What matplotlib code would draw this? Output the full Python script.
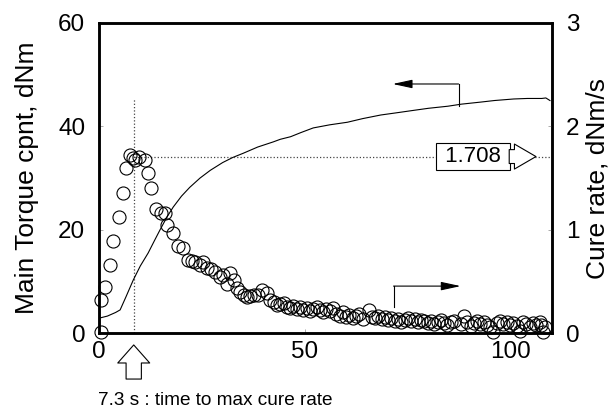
import numpy as np
import matplotlib
matplotlib.use('Agg')
import matplotlib.pyplot as plt

plt.rcParams['font.family'] = ['Liberation Sans', 'DejaVu Sans']

# ============================================
# DATOS
# ============================================
# Torque principal (eje izquierdo), dNm
t_torque = [0, 2, 4, 5.1, 6.5, 8.3, 10, 11.9, 13.5, 14.8, 16.5, 18, 20, 22,
            24.5, 27, 30, 32.5, 35, 38.5, 42.3, 44, 46.5, 49, 52, 56, 60.3,
            64, 68.4, 72, 76.4, 80, 84.7, 88, 92.7, 96, 100.7, 104, 107.5,
            108.5, 109.5]
torque = [2.9, 3.3, 4.0, 4.5, 7.0, 10.3, 13.0, 15.5, 18.0, 20.0, 22.5, 24.4,
          26.5, 28.2, 30.0, 31.5, 33.0, 34.0, 34.8, 36.0, 37.0, 37.5, 38.0,
          38.8, 39.7, 40.3, 40.8, 41.5, 42.2, 42.6, 43.1, 43.5, 43.9, 44.3,
          44.7, 45.0, 45.3, 45.4, 45.4, 45.5, 45.0]

# Velocidad de curado (eje derecho), dNm/s
t_rate = [0.4, 0.5, 1.5, 2.7, 3.4, 4.9, 5.9, 6.6, 7.5, 8.3, 8.8, 9.8, 11.2,
          11.9, 12.7, 13.9, 15.1, 16.0, 16.6, 18.0, 19.2, 20.4, 21.6, 22.5,
          23.4, 24.4, 25.3, 26.2, 27.2, 28.2, 29.4, 30.2, 31.0, 31.9, 32.7,
          33.5, 34.3, 35.1, 35.9, 36.7, 37.5, 38.5, 39.6, 40.8, 41.6, 42.4,
          43.2, 44.0, 44.8, 45.6,
          46.4, 47.2, 48.0, 48.8, 49.6, 50.4, 51.2, 52.0, 52.8, 53.6, 54.4,
          55.2, 56.0, 56.8,
          57.6, 58.4, 59.2, 60.0, 60.8, 61.6, 62.4, 63.2, 64.0, 65.5, 66.2,
          67.0, 67.8, 68.6, 69.4,
          70.2, 71.0, 71.8, 72.6, 73.4, 74.2, 75.0, 75.8, 76.6, 77.4, 78.2,
          79.0,
          79.8, 80.6, 81.4, 82.2, 83.0, 83.8, 84.6, 85.4, 86.2, 88.6, 87.8,
          89.4, 90.2, 91.0, 91.8, 92.6, 93.4, 94.2, 95.0, 95.6, 96.6, 97.4,
          98.2, 99.0, 99.8, 100.6, 101.4, 102.2, 103.0, 103.8, 104.6, 105.4,
          106.2, 107.0, 107.4, 107.8, 108.4]
rate = [0.01, 0.32, 0.45, 0.66, 0.89, 1.12, 1.36, 1.60, 1.72, 1.69, 1.67,
        1.70, 1.67, 1.55, 1.40, 1.20, 1.16, 1.16, 1.05, 0.97, 0.84, 0.82,
        0.71, 0.70, 0.69, 0.66, 0.69, 0.63, 0.62, 0.59, 0.54, 0.56, 0.48,
        0.58, 0.51, 0.44, 0.40, 0.37, 0.35, 0.36, 0.37, 0.37, 0.42, 0.39,
        0.32, 0.30, 0.27, 0.28, 0.29, 0.25,
        0.24, 0.26, 0.23, 0.25, 0.22, 0.24, 0.21, 0.23, 0.25, 0.22, 0.20,
        0.23, 0.21, 0.24,
        0.19, 0.17, 0.20, 0.16, 0.18, 0.15, 0.17, 0.19, 0.14, 0.22, 0.16,
        0.15, 0.17, 0.14, 0.16,
        0.13, 0.15, 0.12, 0.14, 0.11, 0.13, 0.15, 0.12, 0.14, 0.11, 0.13,
        0.12,
        0.10, 0.12, 0.09, 0.11, 0.13, 0.10, 0.08, 0.11, 0.12, 0.17, 0.09,
        0.11, 0.07, 0.10, 0.12, 0.09, 0.11, 0.08, 0.06, 0.01, 0.10, 0.12,
        0.09, 0.11, 0.08, 0.10, 0.07, 0.02, 0.11, 0.09, 0.06, 0.10,
        0.08, 0.11, 0.08, 0.01, 0.06]

t_max = 8.4          # posición de la línea vertical (tiempo a máx. velocidad)
rate_max = 1.708     # velocidad máxima, dNm/s
torque_line_top = 45.5

# ============================================
# FIGURA
# ============================================
fig = plt.figure(figsize=(6.12, 4.18), dpi=100)
ax = fig.add_axes([0.162, 0.203, 0.740, 0.742])
ax2 = ax.twinx()

ax.set_xlim(0, 110)
ax.set_ylim(0, 60)
ax2.set_ylim(0, 3)
ax.set_xticks([0, 50, 100])
ax.set_yticks([0, 20, 40, 60])
ax2.set_yticks([0, 1, 2, 3])

# Curva de torque
ax.plot(t_torque, torque, color='black', linewidth=0.8, zorder=3)

# Líneas punteadas de referencia
ax.plot([t_max, t_max], [0, torque_line_top], color='#444444',
        linestyle=':', linewidth=0.9)
ax2.plot([t_max, 110], [rate_max, rate_max], color='#444444',
         linestyle=':', linewidth=0.9, zorder=1)

# Velocidad de curado (círculos)
ax2.plot(t_rate, rate, linestyle='none', marker='o', markersize=9.4,
         markerfacecolor='none', markeredgecolor='black',
         markeredgewidth=0.8, clip_on=False, zorder=2)

# Flechas indicadoras de eje
ax.plot([87.3, 87.3], [43.9, 48.2], color='black', linewidth=0.8)
ax.annotate('', xy=(71.3, 48.2), xytext=(87.3, 48.2),
            arrowprops=dict(arrowstyle='-|>,head_length=12,head_width=2.6',
                            mutation_scale=1, color='black', lw=0.8,
                            shrinkA=0, shrinkB=0))
ax.plot([71.5, 71.5], [5.0, 9.1], color='black', linewidth=0.8)
ax.annotate('', xy=(87.8, 9.1), xytext=(71.5, 9.1),
            arrowprops=dict(arrowstyle='-|>,head_length=12,head_width=2.6',
                            mutation_scale=1, color='black', lw=0.8,
                            shrinkA=0, shrinkB=0))

# Etiqueta del valor máximo
ax2.text(90.8, rate_max, ' 1.708 ', fontsize=16, ha='center', va='center',
         bbox=dict(boxstyle='square,pad=0.15', fc='white', ec='black', lw=0.8),
         zorder=5)
ax2.annotate('', xy=(106.1, rate_max), xytext=(99.6, rate_max),
             arrowprops=dict(arrowstyle='simple,head_length=15.5,head_width=18,tail_width=10',
                             mutation_scale=1, fc='white', ec='black', lw=0.8,
                             shrinkA=0, shrinkB=0), zorder=5)

# Flecha hueca bajo el eje x
ax.annotate('', xy=(t_max, -0.038), xycoords=('data', 'axes fraction'),
            xytext=(t_max, -0.148), textcoords=('data', 'axes fraction'),
            arrowprops=dict(arrowstyle='simple,head_length=13,head_width=23,tail_width=11',
                            mutation_scale=1, fc='white', ec='black', lw=0.8,
                            shrinkA=0, shrinkB=0), annotation_clip=False)
fig.text(0.351, 0.043, '7.3 s : time to max cure rate', fontsize=13.7,
         ha='center', va='center')

# Ejes y etiquetas
ax.set_ylabel('Main Torque cpnt, dNm', fontsize=19, labelpad=14)
ax2.set_ylabel('Cure rate, dNm/s', fontsize=19, labelpad=4)
for a in (ax, ax2):
    for s in a.spines.values():
        s.set_linewidth(1.8)
ax.tick_params(direction='in', length=3, width=0.5, color='#888888',
               labelsize=17.5, pad=10)
ax.tick_params(axis='x', pad=6)
ax2.tick_params(direction='in', length=3, width=0.5, color='#888888',
                labelsize=17.5, pad=10)

plt.savefig('out.png', dpi=100)
plt.close()
